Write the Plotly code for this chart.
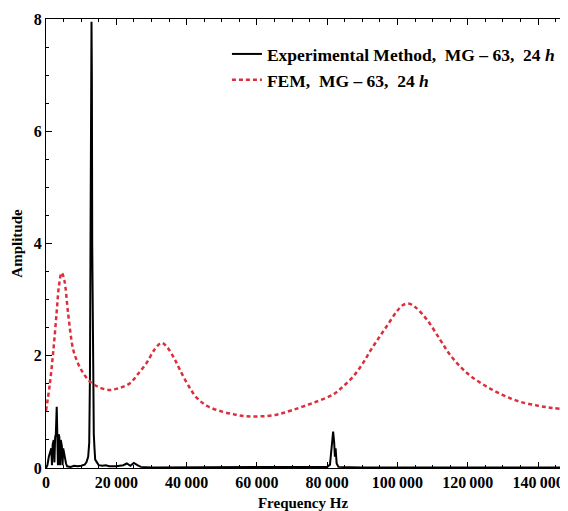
import plotly.graph_objects as go

# FEM curve
fem_x = [0, 1100, 2100, 3000, 3700, 4450, 5200, 6300, 7700, 9000, 10500, 12500, 15000, 18000,
         20000, 22000, 23900, 26000, 28600, 31000, 32900, 34500, 36500, 38100, 40500, 42900,
         46000, 50400, 54000, 57100, 61000, 65600, 70000, 76000, 81700, 84500, 87400, 90000,
         92200, 94500, 96900, 99800, 101500, 103100, 105000, 108300, 112100, 114800, 117800,
         121000, 125400, 130000, 134900, 140000, 144000, 148500]
fem_y = [1.02, 1.5, 2.1, 2.75, 3.25, 3.48, 3.35, 2.75, 2.12, 1.88, 1.7, 1.54, 1.44, 1.39,
         1.41, 1.45, 1.51, 1.66, 1.87, 2.12, 2.23, 2.15, 1.95, 1.75, 1.47, 1.25,
         1.1, 1.0, 0.95, 0.92, 0.92, 0.95, 1.03, 1.16, 1.31, 1.45, 1.63, 1.85,
         2.08, 2.3, 2.52, 2.79, 2.9, 2.93, 2.87, 2.65, 2.29, 2.03, 1.81,
         1.63, 1.45, 1.3, 1.18, 1.11, 1.07, 1.04]

# Experimental curve
exp_x = [0, 400, 800, 1200, 1500, 1700, 1900, 2200, 2400, 2600, 2800, 3050, 3250, 3400, 3600,
         3800, 4000, 4200, 4500, 4700, 4900, 5300, 5700, 6000, 6500, 7000, 8000, 9000, 10000,
         11000, 11500, 12000, 12300, 12500, 12700, 12950, 13050, 13150, 13300, 13450, 13600,
         13800, 14000, 14500, 15000, 16000, 17000, 18000, 20000, 22000, 23000, 24000, 25000,
         26000, 27000, 30000, 40000, 60000, 80000, 80800, 81300, 81700, 82000, 82200, 82400,
         82700, 83200, 90000, 120000, 148500]
exp_y = [0.0, 0.05, 0.2, 0.3, 0.35, 0.05, 0.42, 0.5, 0.1, 0.55, 0.6, 1.09, 0.55, 0.05, 0.6,
         0.55, 0.05, 0.5, 0.4, 0.05, 0.35, 0.2, 0.08, 0.03, 0.03, 0.02, 0.04, 0.03, 0.04,
         0.06, 0.1, 0.2, 0.45, 1.6, 4.5, 7.95, 7.0, 4.0, 2.4, 2.2, 0.6,
         0.35, 0.15, 0.1, 0.05, 0.04, 0.05, 0.03, 0.03, 0.05, 0.08, 0.04, 0.09,
         0.05, 0.02, 0.01, 0.01, 0.01, 0.02, 0.06, 0.35, 0.65, 0.45, 0.2, 0.35,
         0.08, 0.02, 0.01, 0.01, 0.01]

x_tickvals = [0, 20000, 40000, 60000, 80000, 100000, 120000, 140000]
x_ticktext = ["0", "20\u2009000", "40\u2009000", "60\u2009000", "80\u2009000",
              "100\u2009000", "120\u2009000", "140\u2009000"]
y_tickvals = [0, 2, 4, 6, 8]
y_ticktext = ["0", "2", "4", "6", "8"]

sp = "\u00a0"
name_exp = "<b>Experimental Method," + sp + sp + "MG – 63," + sp + sp + "24 <i>h</i></b>"
name_fem = "<b>FEM," + sp + sp + "MG – 63," + sp + sp + "24 <i>h</i></b>"

fig = go.Figure()
fig.add_trace(go.Scatter(x=exp_x, y=exp_y, mode="lines", name=name_exp,
                         line=dict(color="black", width=2)))
fig.add_trace(go.Scatter(x=fem_x, y=fem_y, mode="lines", name=name_fem,
                         line=dict(color="#DC2F3C", width=2.5, dash="4px,3px", shape="spline")))

font = "Liberation Serif, Times New Roman, serif"
axis_common = dict(showgrid=False, zeroline=False, showline=True, linecolor="black",
                   linewidth=1, ticks="inside", tickcolor="black", ticklen=6,
                   automargin=False, ticklabeloverflow="allow",
                   tickfont=dict(family=font, size=16, color="black", weight="bold"))

# page body has an 8px margin, so the figure is placed at (8, 8)
fig.update_layout(
    width=552, height=503,
    margin=dict(l=38, r=0, t=11, b=43),
    paper_bgcolor="white", plot_bgcolor="white",
    font=dict(family=font, color="black"),
    showlegend=True,
    legend=dict(x=0.352, y=0.962, xanchor="left", yanchor="top",
                font=dict(family=font, size=17.5, color="black"),
                bgcolor="rgba(0,0,0,0)", tracegroupgap=0, itemwidth=30),
    xaxis=dict(range=[0, 146250], tickvals=x_tickvals, ticktext=x_ticktext,
               mirror="ticks",
               minor=dict(dtick=5000, tick0=0, ticks="inside", ticklen=3, tickcolor="black"),
               title=dict(text="<b>Frequency Hz</b>", font=dict(family=font, size=15),
                          standoff=10),
               **axis_common),
    yaxis=dict(range=[0, 8], tickvals=y_tickvals, ticktext=y_ticktext,
               minor=dict(dtick=0.5, tick0=0, ticks="inside", ticklen=3, tickcolor="black"),
               title=dict(text="<b>Amplitude</b>", font=dict(family=font, size=15),
                          standoff=7),
               **axis_common),
)

fig.write_html("out.html")
